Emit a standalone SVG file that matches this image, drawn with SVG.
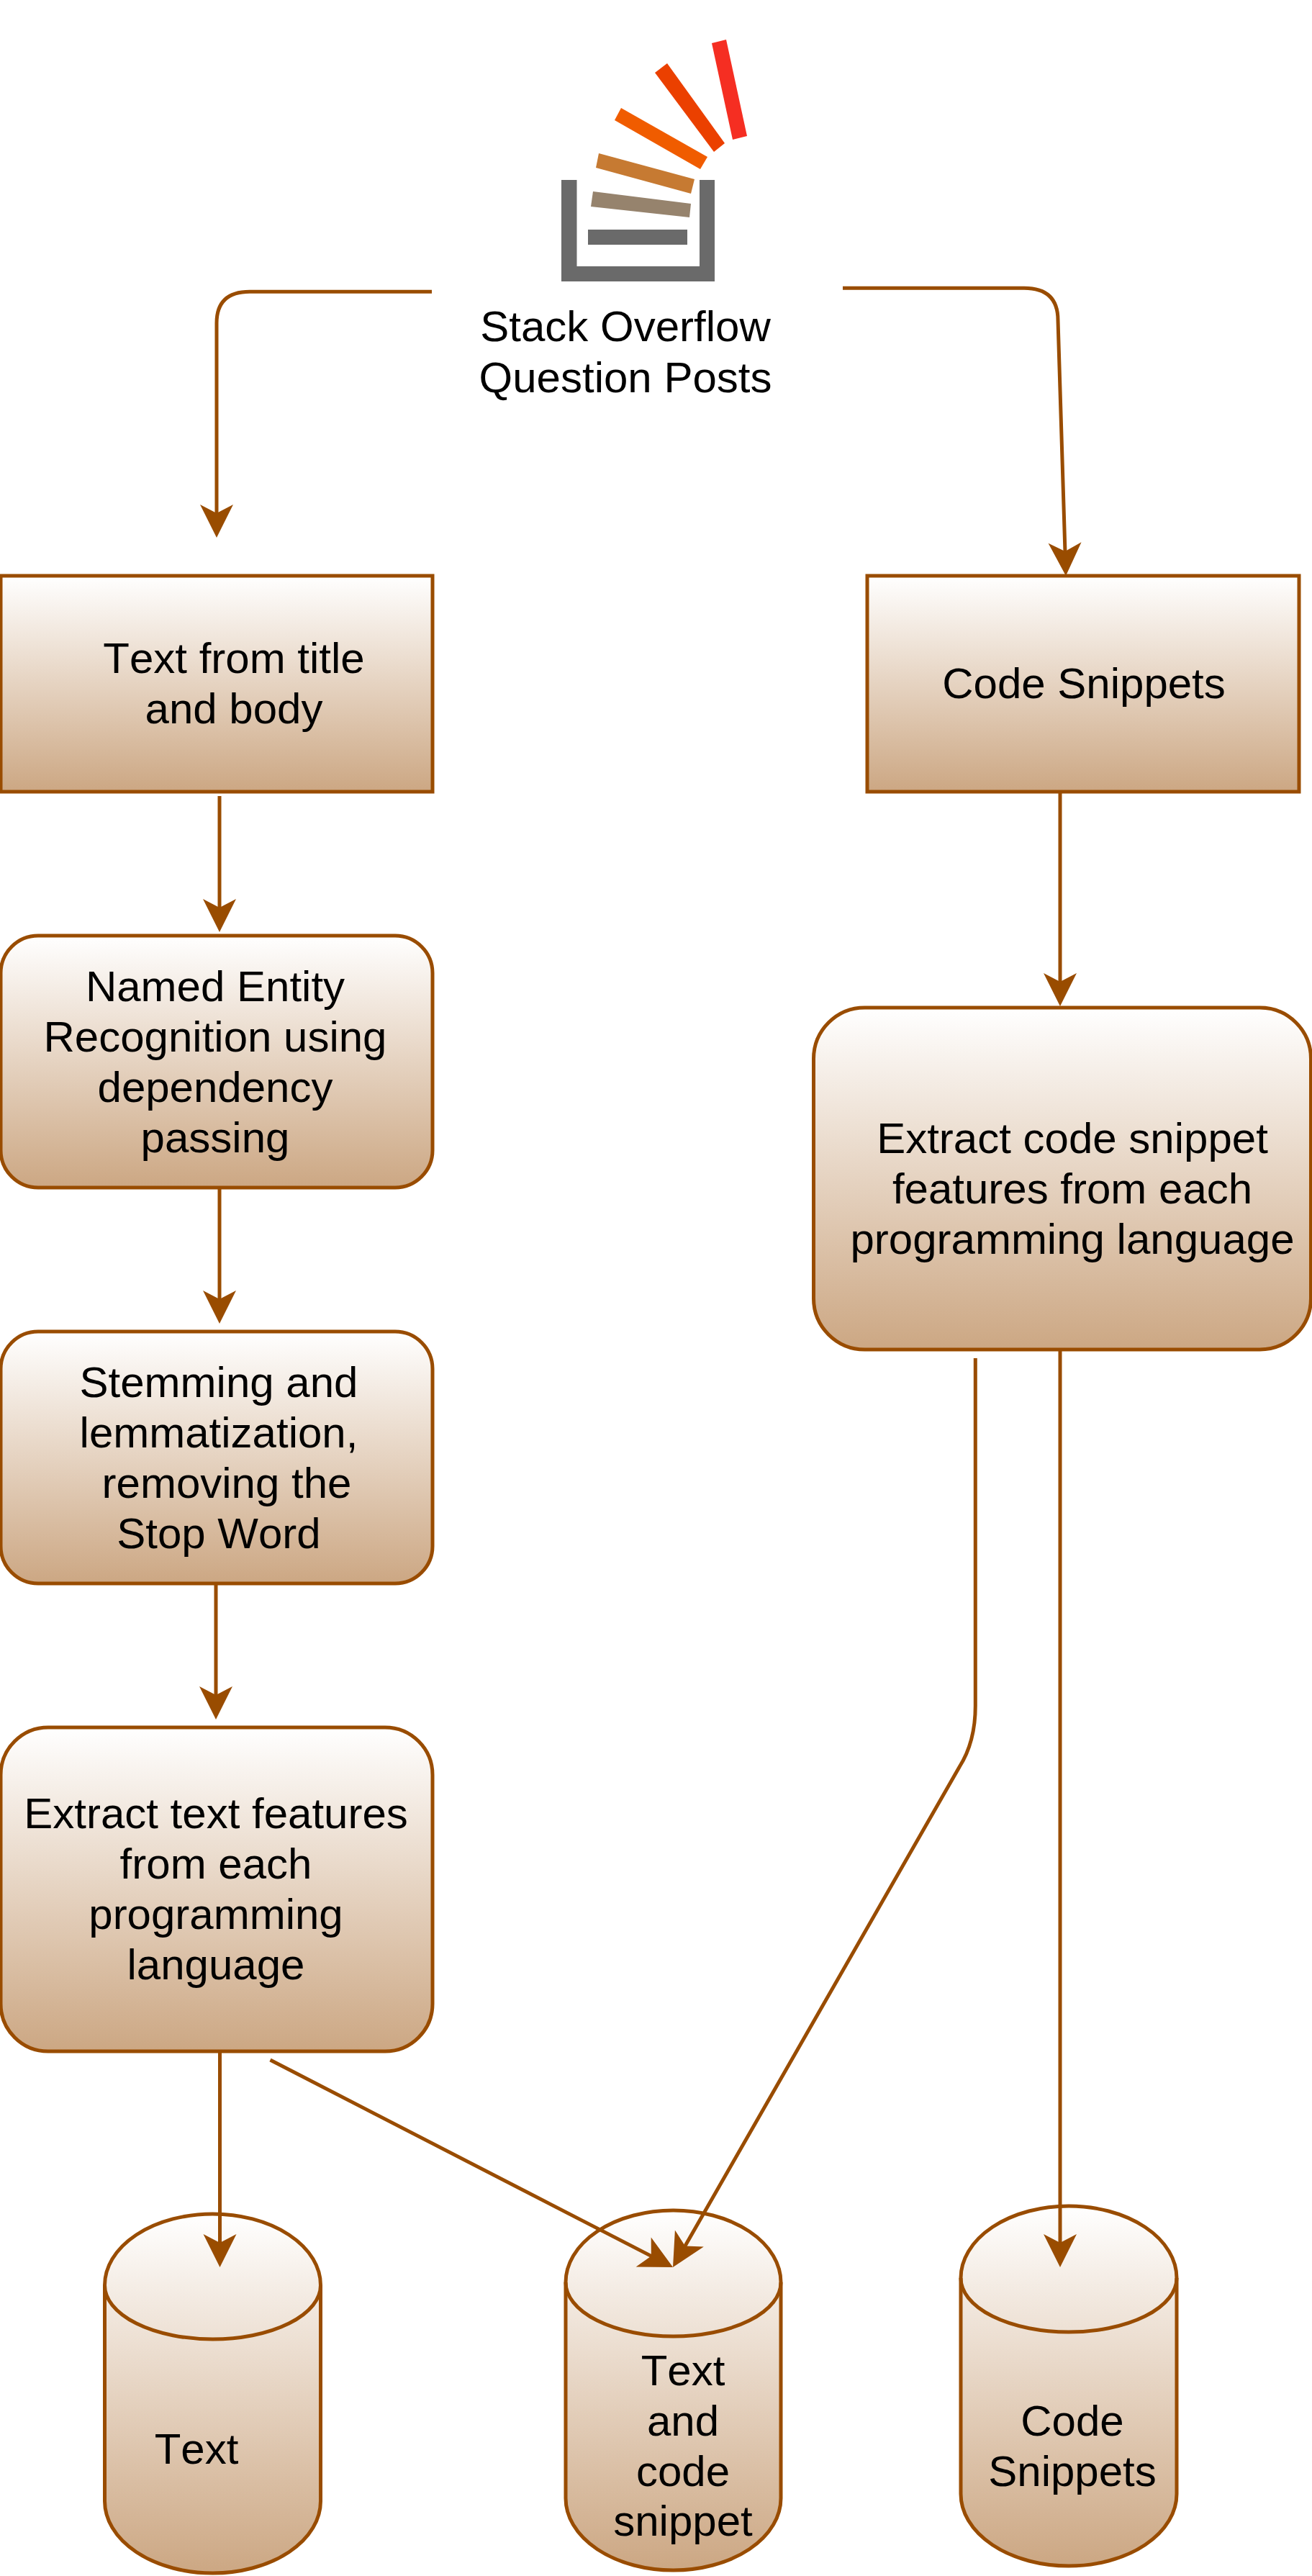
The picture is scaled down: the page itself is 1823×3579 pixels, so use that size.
<svg xmlns="http://www.w3.org/2000/svg" width="1823" height="3579" viewBox="0 0 1823 3579">
<style>
.n{stroke:#994c00;stroke-width:5;fill:url(#g)}
.i{stroke:#994c00;stroke-width:5;fill:none}
.c{stroke:#994c00;stroke-width:5;fill:none;marker-end:url(#a)}
text{font-family:"Liberation Sans",Arial,sans-serif;font-size:60px;fill:#000;text-anchor:middle;font-kerning:none}
</style>
<defs>
<linearGradient id="g" x1="0" y1="0" x2="0" y2="1"><stop offset="0" stop-color="#ffffff"/><stop offset="1" stop-color="#cca783"/></linearGradient>
<marker id="a" markerUnits="userSpaceOnUse" markerWidth="60" markerHeight="60" viewBox="-2 -30 60 60" refX="14" refY="0" orient="auto"><path d="M0,-23L46,0L0,23L12,0Z" fill="#994c00"/></marker>
<filter id="soft" x="-5%" y="-5%" width="110%" height="110%"><feGaussianBlur stdDeviation="0.7"/></filter>
</defs>
<rect width="1823" height="3579" fill="#fff"/>
<g id="logo">
<g filter="url(#soft)">
<path d="M780,250H801.500V370H972V250H993V391H780Z" fill="#6b6b6b"/>
<rect x="817" y="319" width="138" height="21" fill="#6b6b6b"/>
<polygon points="824,266 960,283 958,302 821,287" fill="#96836d"/>
<polygon points="832,213 965,249 960,269 828,233" fill="#c67a32"/>
<polygon points="863,150 983,218 973,235 854,167" fill="#f05c00"/>
<polygon points="927,88 1007,199 992,211 910,101" fill="#eb4100"/>
<polygon points="989,60 1009,55 1038,189 1018,194" fill="#f52f20"/>
</g>
<text x="869" y="474">Stack Overflow</text>
<text x="869" y="545">Question Posts</text>
</g>
<g id="text-title-body"><rect class="n" x="1" y="800" width="600" height="300"/><text x="325" y="935">Text from title</text><text x="325" y="1005">and body</text></g>
<g id="code-snippets"><rect class="n" x="1205" y="800" width="600" height="300"/><text x="1506" y="970">Code Snippets</text></g>
<g id="ner"><rect class="n" x="1" y="1300" width="600" height="350" rx="52"/><text x="299" y="1391">Named Entity</text><text x="299" y="1461">Recognition using</text><text x="299" y="1531">dependency</text><text x="299" y="1601">passing</text></g>
<g id="stem"><rect class="n" x="1" y="1850" width="600" height="350" rx="52"/><text x="304" y="1941">Stemming and</text><text x="304" y="2011">lemmatization,</text><text x="315" y="2081">removing the</text><text x="304" y="2151">Stop Word</text></g>
<g id="extract-text"><rect class="n" x="1" y="2400" width="600" height="450" rx="66"/><text x="300" y="2540">Extract text features</text><text x="300" y="2610">from each</text><text x="300" y="2680">programming</text><text x="300" y="2750">language</text></g>
<g id="extract-code"><rect class="n" x="1130.500" y="1400" width="691" height="475" rx="71"/><text x="1490" y="1602">Extract code snippet</text><text x="1490" y="1672">features from each</text><text x="1490" y="1742">programming language</text></g>
<g id="db-text"><path class="n" d="M145.500,3175A150,99 0 0 1 445.500,3175V3475A150,100 0 0 1 145.500,3475Z"/><path class="i" d="M145.500,3175A150,75 0 0 0 445.500,3175"/><text x="273" y="3423">Text</text></g>
<g id="db-both"><path class="n" d="M786,3171A149.500,100 0 0 1 1085,3171V3471A149.500,100 0 0 1 786,3471Z"/><path class="i" d="M786,3171A149.500,75 0 0 0 1085,3171"/><text x="949" y="3314">Text</text><text x="949" y="3384">and</text><text x="949" y="3454">code</text><text x="949" y="3523">snippet</text></g>
<g id="db-code"><path class="n" d="M1335,3165A150,100 0 0 1 1635,3165V3465A150,100 0 0 1 1335,3465Z"/><path class="i" d="M1335,3165A150,75 0 0 0 1635,3165"/><text x="1490" y="3384">Code</text><text x="1490" y="3454">Snippets</text></g>
<g id="connectors">
<path class="c" d="M600,405.300H347Q301,405.300 301,449V715"/>
<path class="c" d="M1171,400.300H1423Q1470,400.300 1470,445L1480,768"/>
<path class="c" d="M305,1106V1263"/>
<path class="c" d="M305,1650V1807"/>
<path class="c" d="M300,2200V2357"/>
<path class="c" d="M1473,1100V1366"/>
<path class="c" d="M305.500,2850V3118"/>
<path class="c" d="M375.500,2862L906.600,3135.400"/>
<path class="c" d="M1355.300,1887V2370Q1355.300,2420 1333,2455L950.900,3122.200"/>
<path class="c" d="M1473,1875V3118"/>
</g>
</svg>
